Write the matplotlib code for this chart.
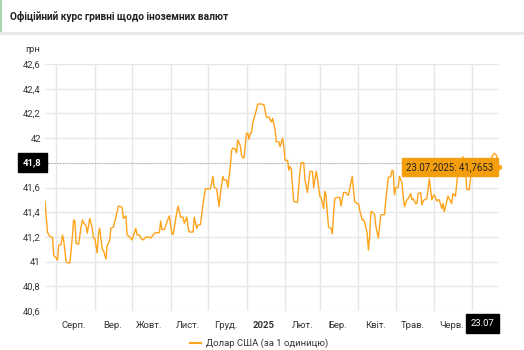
import numpy as np
import matplotlib
matplotlib.use("Agg")
import matplotlib.pyplot as plt
from matplotlib.patches import Rectangle
from matplotlib.lines import Line2D

plt.rcParams['font.family'] = ['Roboto', 'DejaVu Sans']

# Official UAH/USD rate, days counted from 23.07.2024
start_date = np.datetime64('2024-07-23')
day_offsets = [
    0, 2, 3, 5, 6, 7, 9, 10, 11, 13, 14, 15, 17, 18, 20, 22, 23, 24, 25, 27,
    29, 30, 32, 33, 34, 36, 38, 39, 40, 42, 43, 44, 46, 47, 49, 50, 52, 53, 55, 57,
    59, 62, 63, 65, 66, 68, 70, 72, 73, 74, 76, 77, 79, 81, 83, 85, 88, 90, 92, 93,
    94, 96, 98, 100, 102, 103, 106, 107, 109, 111, 112, 114, 115, 116, 119, 120, 122, 123, 125, 127,
    129, 132, 133, 135, 136, 138, 140, 141, 143, 144, 146, 147, 149, 150, 151, 153, 154, 155, 157, 158,
    159, 160, 162, 163, 164, 165, 166, 167, 170, 171, 174, 176, 178, 180, 182, 183, 185, 186, 188, 189,
    191, 192, 193, 195, 196, 197, 198, 199, 200, 203, 204, 205, 206, 208, 209, 211, 212, 213, 215, 216,
    218, 219, 221, 222, 224, 225, 226, 227, 228, 230, 231, 232, 233, 235, 237, 238, 240, 242, 243, 244,
    247, 248, 249, 251, 252, 253, 255, 256, 257, 259, 260, 261, 262, 263, 265, 266, 268, 269, 270, 271,
    273, 274, 276, 278, 279, 280, 281, 282, 284, 285, 287, 288, 289, 291, 292, 294, 295, 296, 298, 299,
    300, 302, 303, 304, 305, 307, 309, 311, 312, 313, 315, 316, 317, 319, 320, 321, 323, 324, 326, 327,
    328, 330, 331, 332, 334, 335, 336, 338, 339, 341, 342, 343, 344, 346, 347, 348, 350, 351, 352, 354,
    355, 357, 359, 360, 361, 363, 364, 365,
]
usd_rates = [
    41.485, 41.24, 41.215, 41.197, 41.197, 41.05, 41.03, 41.01, 41.13, 41.14,
    41.215, 41.175, 41.00, 40.99, 40.99, 41.20, 41.337, 41.33, 41.148, 41.14,
    41.28, 41.337, 41.30, 41.29, 41.23, 41.35, 41.27, 41.19, 41.19, 41.07,
    41.23, 41.27, 41.10, 41.09, 41.02, 41.13, 41.17, 41.27, 41.28, 41.36,
    41.45, 41.44, 41.35, 41.37, 41.215, 41.20, 41.175, 41.24, 41.27, 41.215,
    41.215, 41.19, 41.175, 41.197, 41.20, 41.19, 41.23, 41.235, 41.235, 41.33,
    41.26, 41.26, 41.32, 41.37, 41.225, 41.22, 41.40, 41.45, 41.36, 41.36,
    41.31, 41.36, 41.28, 41.24, 41.24, 41.36, 41.27, 41.296, 41.30, 41.46,
    41.59, 41.59, 41.59, 41.69, 41.60, 41.59, 41.445, 41.55, 41.69, 41.66,
    41.66, 41.60, 41.77, 41.90, 41.92, 41.91, 41.88, 41.985, 41.94, 41.86,
    41.84, 41.84, 42.04, 42.04, 41.99, 42.04, 42.04, 42.12, 42.23, 42.276,
    42.276, 42.27, 42.17, 42.17, 42.13, 42.16, 42.066, 41.97, 41.97, 41.93,
    42.00, 41.93, 41.82, 41.82, 41.74, 41.77, 41.75, 41.606, 41.485, 41.48,
    41.60, 41.73, 41.80, 41.80, 41.66, 41.56, 41.65, 41.73, 41.73, 41.60,
    41.73, 41.68, 41.526, 41.52, 41.43, 41.57, 41.53, 41.39, 41.28, 41.27,
    41.224, 41.39, 41.51, 41.52, 41.52, 41.45, 41.56, 41.56, 41.54, 41.54,
    41.69, 41.58, 41.485, 41.47, 41.47, 41.418, 41.337, 41.34, 41.32, 41.23,
    41.094, 41.20, 41.404, 41.404, 41.38, 41.29, 41.19, 41.29, 41.377, 41.38,
    41.38, 41.50, 41.68, 41.69, 41.74, 41.73, 41.54, 41.60, 41.60, 41.69,
    41.64, 41.525, 41.445, 41.50, 41.51, 41.55, 41.50, 41.51, 41.47, 41.47,
    41.55, 41.56, 41.46, 41.49, 41.50, 41.51, 41.67, 41.50, 41.53, 41.54,
    41.49, 41.50, 41.50, 41.43, 41.47, 41.404, 41.49, 41.53, 41.49, 41.47,
    41.55, 41.53, 41.63, 41.715, 41.72, 41.69, 41.85, 41.77, 41.59, 41.58,
    41.66, 41.77, 41.74, 41.82, 41.79, 41.79, 41.82, 41.83, 41.82, 41.83,
    41.82, 41.81, 41.84, 41.86, 41.877, 41.86, 41.81, 41.7653,
]

month_starts = ['2024-08-01', '2024-09-01', '2024-10-01', '2024-11-01', '2024-12-01',
                '2025-01-01', '2025-02-01', '2025-03-01', '2025-04-01', '2025-05-01',
                '2025-06-01', '2025-07-01']
month_labels = ['Серп.', 'Вер.', 'Жовт.', 'Лист.', 'Груд.', '2025',
                'Лют.', 'Бер.', 'Квіт.', 'Трав.', 'Черв.']
y_ticks = [40.6, 40.8, 41.0, 41.2, 41.4, 41.6, 41.8, 42.0, 42.2, 42.4, 42.6]

title = 'Офіційний курс гривні щодо іноземних валют'
unit_label = 'грн'
series_name = 'Долар США (за 1 одиницю)'
crosshair_value = 41.8
crosshair_label = '41,8'
last_date_label = '23.07'
tooltip_text = '23.07.2025: 41,7653'

LINE_COLOR = '#ffa31a'
TOOLTIP_COLOR = '#f59e0b'
GRID_COLOR = '#e6e6e6'
TEXT_COLOR = '#333333'


def fmt_tick(v):
    s = f'{v:.1f}'.rstrip('0').rstrip('.')
    return s.replace('.', ',')


dates = start_date + np.array(day_offsets).astype('timedelta64[D]')
rates = np.array(usd_rates)

W, H = 524, 350
fig = plt.figure(figsize=(W / 100, H / 100), dpi=100)
fig.patch.set_facecolor('white')

# header strip
fig.patches.append(Rectangle((0, 1 - 35 / H), 1, 3 / H, transform=fig.transFigure,
                             facecolor='#e9e9e9', edgecolor='none'))
fig.patches.append(Rectangle((0, 1 - 32 / H), 2 / W, 32 / H, transform=fig.transFigure,
                             facecolor='#a8d5b0', edgecolor='none'))
fig.text(10 / W, 1 - 16.5 / H, title, fontsize=7.3, fontweight='bold',
         color='#222222', va='center', ha='left')
fig.text(25 / W, 1 - 50 / H, unit_label, fontsize=6.8, color=TEXT_COLOR,
         va='center', ha='left')

ax = fig.add_axes([45 / W, 1 - 311 / H, 454 / W, 247 / H])
ax.set_facecolor('white')
for sp in ax.spines.values():
    sp.set_visible(False)

x_start = start_date
x_end = start_date + np.timedelta64(day_offsets[-1], 'D')
ax.set_xlim(x_start, x_end)
ax.set_ylim(y_ticks[0], y_ticks[-1])

major_x = np.array(month_starts, dtype='datetime64[D]')
minor_x = major_x[:len(month_labels)] + np.timedelta64(14, 'D')
ax.set_xticks(major_x)
ax.set_xticklabels([])
ax.set_xticks(minor_x, month_labels, minor=True)
ax.tick_params(axis='x', which='both', length=0, pad=7, labelsize=6.8, labelcolor=TEXT_COLOR)
for lbl in ax.get_xticklabels(minor=True):
    if lbl.get_text() == '2025':
        lbl.set_fontweight('bold')

ax.set_yticks(y_ticks)
ax.set_yticklabels([fmt_tick(v) for v in y_ticks])
ax.tick_params(axis='y', length=0, pad=3, labelsize=6.8, labelcolor=TEXT_COLOR)

ax.grid(True, which='major', color=GRID_COLOR, linewidth=1.0)
ax.set_axisbelow(True)

ax.plot(dates, rates, color=LINE_COLOR, linewidth=1.0, solid_joinstyle='round', zorder=3)

# crosshair
ax.axhline(crosshair_value, color='#b0b0b0', linestyle=(0, (1.5, 1.5)), linewidth=0.7, zorder=2)
ax.axvline(dates[-1], color='#b0b0b0', linestyle=(0, (1.5, 1.5)), linewidth=0.7, zorder=2)
ax.plot([dates[-1]], [rates[-1]], marker='o', markersize=2.8, color=LINE_COLOR,
        zorder=4, clip_on=False)

ax.annotate(crosshair_label, xy=(0, crosshair_value), xycoords=('axes fraction', 'data'),
            xytext=(-9, 0), textcoords='offset points', ha='center', va='center',
            color='white', fontsize=6.8, fontweight='bold',
            bbox=dict(boxstyle='square,pad=0.55', facecolor='black', edgecolor='black'))
ax.plot([0.0], [crosshair_value], marker='>', markersize=3.5, color='black',
        transform=ax.get_yaxis_transform(), clip_on=False)

ax.annotate(last_date_label, xy=(dates[-1], 0), xycoords=('data', 'axes fraction'),
            xytext=(-12, -9), textcoords='offset points', ha='center', va='center',
            color='white', fontsize=6.8,
            bbox=dict(boxstyle='square,pad=0.5', facecolor='black', edgecolor='black'))

ax.annotate(tooltip_text, xy=(dates[-1], rates[-1]), xytext=(-4, 0),
            textcoords='offset points', ha='right', va='center',
            color='#222222', fontsize=6.9,
            bbox=dict(boxstyle='square,pad=0.45', facecolor=TOOLTIP_COLOR,
                      edgecolor=TOOLTIP_COLOR), zorder=5)

fig.legend(handles=[Line2D([], [], color=LINE_COLOR, linewidth=1.5)], labels=[series_name],
           loc='center', bbox_to_anchor=(259 / W, 1 - 343.5 / H), frameon=False,
           handlelength=1.2, handletextpad=0.5, fontsize=6.8, labelcolor=TEXT_COLOR)

fig.savefig('out.png', dpi=100, facecolor='white')
